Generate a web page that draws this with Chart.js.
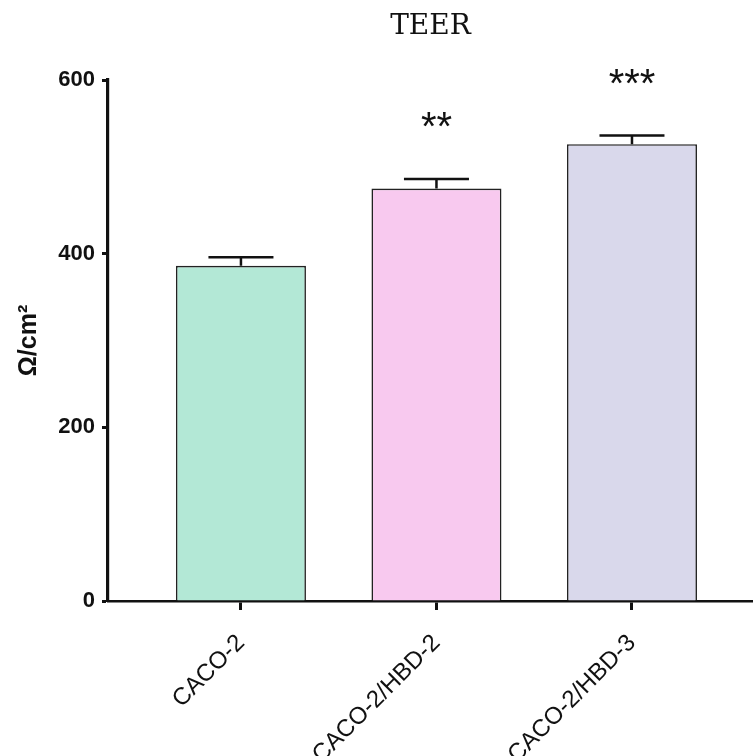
<!DOCTYPE html>
<html>
<head>
<meta charset="utf-8">
<title>TEER</title>
<script src="https://cdn.jsdelivr.net/npm/chart.js@4/dist/chart.umd.min.js"></script>
<style>
  html, body { margin: 0; padding: 0; background: #ffffff; }
  #wrap { width: 753px; height: 756px; position: relative; }
</style>
</head>
<body>
<div id="wrap"><canvas id="c"></canvas></div>
<script>
// Transepithelial electrical resistance per cell line (mean ± SEM)
const categories = ['CACO-2', 'CACO-2/HBD-2', 'CACO-2/HBD-3'];
const meanTEER = [386, 475, 526];
const semTEER = [10, 11, 10];
const significance = ['', '**', '***'];
const yTicks = [0, 200, 400, 600];
const barColors = ['#b3e8d6', '#f8c9ef', '#d9d8eb'];

// Mean ± SEM whiskers and significance stars drawn over the bars
const errorBarPlugin = {
  id: 'errorBars',
  afterDatasetsDraw(chart) {
    const ctx = chart.ctx;
    const yScale = chart.scales.y;
    const meta = chart.getDatasetMeta(0);
    ctx.save();
    meta.data.forEach((bar, i) => {
      const x = bar.x;
      const top = yScale.getPixelForValue(meanTEER[i] + semTEER[i]);
      const capHalf = bar.width * 0.25;
      ctx.strokeStyle = '#111111';
      ctx.lineWidth = 2.5;
      ctx.lineCap = 'butt';
      ctx.beginPath();
      ctx.moveTo(x, bar.y);
      ctx.lineTo(x, top);
      ctx.moveTo(x - capHalf, top);
      ctx.lineTo(x + capHalf, top);
      ctx.stroke();
      if (significance[i]) {
        ctx.fillStyle = '#111111';
        ctx.font = '40px "Liberation Sans", Arial, sans-serif';
        ctx.textAlign = 'center';
        ctx.textBaseline = 'alphabetic';
        ctx.fillText(significance[i], x, top - 39);
      }
    });
    ctx.restore();
  }
};

new Chart(document.getElementById('c'), {
  type: 'bar',
  data: {
    datasets: [{
      data: meanTEER.map((v, i) => ({ x: i, y: v })),
      backgroundColor: barColors,
      borderColor: '#222222',
      borderWidth: 1.6,
      categoryPercentage: 1,
      barPercentage: 0.665
    }]
  },
  options: {
    responsive: true,
    maintainAspectRatio: false,
    animation: false,
    layout: { padding: 0 },
    plugins: {
      legend: { display: false },
      tooltip: { enabled: false },
      title: {
        display: true,
        text: 'TEER',
        fullSize: false,
        color: '#111111',
        font: { family: '"DejaVu Serif", "Liberation Serif", serif', size: 28, weight: 'normal' },
        padding: { top: 10, bottom: 36.4 }
      }
    },
    scales: {
      x: {
        type: 'linear',
        min: -0.68,
        max: 2.619,
        offset: false,
        afterFit(scale) { scale.height = 155; },
        border: { display: true, color: '#111111', width: 2.5 },
        grid: {
          display: true,
          offset: false,
          drawOnChartArea: false,
          drawTicks: true,
          tickLength: 9,
          tickWidth: 3,
          tickColor: '#111111'
        },
        ticks: {
          stepSize: 1,
          includeBounds: false,
          autoSkip: false,
          minRotation: 45,
          maxRotation: 45,
          padding: 19,
          color: '#111111',
          font: { family: '"Liberation Sans", Arial, sans-serif', size: 24 },
          callback: (v) => categories[v] ?? ''
        }
      },
      y: {
        min: 0,
        max: 600,
        afterFit(scale) { scale.width = 108; },
        afterBuildTicks(scale) { scale.ticks = yTicks.map(v => ({ value: v })); },
        border: { display: true, color: '#111111', width: 3.2 },
        grid: {
          display: true,
          drawOnChartArea: false,
          drawTicks: true,
          tickLength: 6,
          tickWidth: 3,
          tickColor: '#111111'
        },
        ticks: {
          padding: 7,
          color: '#111111',
          font: { family: '"Liberation Sans", Arial, sans-serif', size: 22, weight: 'bold' }
        },
        title: {
          display: true,
          text: 'Ω/cm²',
          color: '#111111',
          font: { family: '"Liberation Sans", Arial, sans-serif', size: 25, weight: 'bold' },
          padding: { top: 14, bottom: 0 }
        }
      }
    }
  },
  plugins: [errorBarPlugin]
});
</script>
</body>
</html>
